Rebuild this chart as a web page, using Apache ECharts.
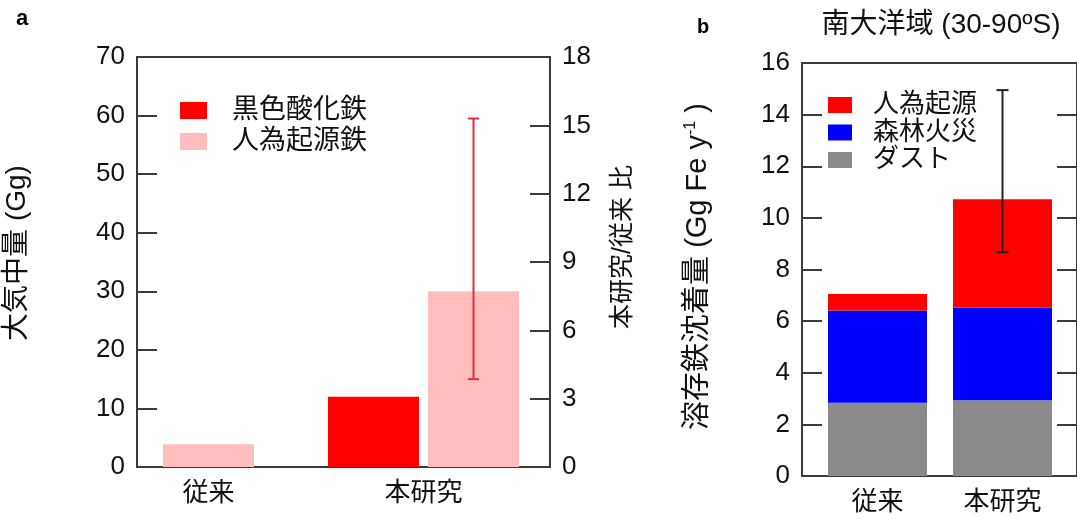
<!DOCTYPE html>
<html>
<head>
<meta charset="utf-8">
<script src="https://cdn.jsdelivr.net/npm/echarts@6/dist/echarts.min.js"></script>
<style>
  html, body { margin: 0; padding: 0; background: #ffffff; }
  #chart { width: 1077px; height: 519px; }
</style>
</head>
<body>
<div id="chart"></div>
<script>
// ---- Panel a: atmospheric burden (Gg) ----
const categoriesA = ['従来', '本研究'];
const blackOxideA = ['-', 12];      // 黒色酸化鉄
const anthroPairedA = ['-', 30];    // 人為起源鉄, 本研究 (paired with 黒色酸化鉄)
const anthroSoloA = [3.9, '-'];     // 人為起源鉄, 従来 (single bar)
const anthroRangeA = [[1, 15, 59.5]]; // [category, low, high]
const leftAxisA = { min: 0, max: 70, interval: 10 };
const rightAxisA = { min: 0, max: 18, interval: 3 };

// ---- Panel b: soluble Fe deposition, Southern Ocean (Gg Fe / yr) ----
const categoriesB = ['従来', '本研究'];
const dustB = [2.84, 2.93];
const fireB = [3.57, 3.59];
const anthroB = [0.64, 4.20];
const totalRangeB = [[1, 8.67, 14.95]];
const axisB = { min: 0, max: 16, interval: 2 };

const FONT = "'Liberation Sans', 'Noto Sans CJK JP', sans-serif";
const AXIS_COLOR = '#3a3a3a';
const RED = '#ff0000';
const PINK = '#ffbdbd';
const BLUE = '#0000ff';
const GREY = '#8a8a8a';

const BAR_W_A = 91, BAR_GAP_A = 9;
const BAR_W_B = 99;

// error bar: vertical whisker with caps, shifted horizontally by dx
function errorBar(color, capHalf, dx) {
  return function (params, api) {
    const c = api.value(0);
    const lo = api.coord([c, api.value(1)]);
    const hi = api.coord([c, api.value(2)]);
    const x = lo[0] + dx;
    const style = { stroke: color, lineWidth: 2 };
    return {
      type: 'group',
      children: [
        { type: 'line', shape: { x1: x, y1: hi[1], x2: x, y2: lo[1] }, style },
        { type: 'line', shape: { x1: x - capHalf, y1: hi[1], x2: x + capHalf, y2: hi[1] }, style },
        { type: 'line', shape: { x1: x - capHalf, y1: lo[1], x2: x + capHalf, y2: lo[1] }, style }
      ]
    };
  };
}

function frameYAxis(grid, position, range, showLabels, extra) {
  return Object.assign({
    type: 'value', gridIndex: grid, position: position,
    min: range.min, max: range.max, interval: range.interval,
    axisLine: { show: true, lineStyle: { color: AXIS_COLOR, width: 2 } },
    axisTick: { show: true, inside: true, length: 20, lineStyle: { color: AXIS_COLOR, width: 2 } },
    axisLabel: { show: showLabels, margin: 12, fontSize: 26, color: '#111', fontFamily: FONT },
    splitLine: { show: false }
  }, extra || {});
}

function hiddenYAxis(grid, range) {
  return { type: 'value', gridIndex: grid, min: range.min, max: range.max, show: false, splitLine: { show: false } };
}

function labelXAxis(grid, cats) {
  return {
    type: 'category', gridIndex: grid, data: cats,
    axisLine: { show: false }, axisTick: { show: false },
    axisLabel: { margin: 14, fontSize: 26, color: '#111', fontFamily: FONT },
    splitLine: { show: false }
  };
}

const chart = echarts.init(document.getElementById('chart'), null, { renderer: 'canvas' });

chart.setOption({
  animation: false,
  backgroundColor: '#ffffff',
  textStyle: { fontFamily: FONT },
  grid: [
    // 0: frame of panel a
    { left: 137, top: 57, width: 413, height: 410, show: true, borderColor: AXIS_COLOR, borderWidth: 2, backgroundColor: 'transparent' },
    // 1: bars of panel a
    { left: 101, top: 57, width: 430, height: 410 },
    // 2: single 従来 bar of panel a
    { left: 101, top: 57, width: 430, height: 410 },
    // 3: frame of panel b
    { left: 802, top: 63, width: 277, height: 413, show: true, borderColor: AXIS_COLOR, borderWidth: 2, backgroundColor: 'transparent' },
    // 4: bars of panel b
    { left: 815, top: 63, width: 250, height: 413 }
  ],
  xAxis: [
    { type: 'value', gridIndex: 0, min: 0, max: 1, show: false, splitLine: { show: false } },
    labelXAxis(1, categoriesA),
    { type: 'category', gridIndex: 2, data: categoriesA, show: false },
    { type: 'value', gridIndex: 3, min: 0, max: 1, show: false, splitLine: { show: false } },
    labelXAxis(4, categoriesB)
  ],
  yAxis: [
    frameYAxis(0, 'left', leftAxisA, true, {
      name: '大気中量 (Gg)', nameLocation: 'middle', nameGap: 106,
      nameTextStyle: { fontSize: 28, color: '#111', padding: [0, 0, 0, 18] }
    }),
    frameYAxis(0, 'right', rightAxisA, true, {
      name: '本研究/従来 比', nameLocation: 'middle', nameGap: 61,
      nameTextStyle: { fontSize: 25, color: '#111', padding: [0, 0, 0, 30] }
    }),
    hiddenYAxis(1, leftAxisA),
    hiddenYAxis(2, leftAxisA),
    frameYAxis(3, 'left', axisB, true, {
      name: '溶存鉄沈着量 (Gg Fe y{sup|-1} )', nameLocation: 'middle', nameGap: 89,
      nameTextStyle: {
        fontSize: 29, color: '#111', padding: [0, 0, 0, 6], lineHeight: 30,
        rich: { sup: { fontSize: 16, color: '#111', verticalAlign: 'top', lineHeight: 30, padding: [0, 0, 12, 0] } }
      }
    }),
    frameYAxis(3, 'right', axisB, false),
    hiddenYAxis(4, axisB)
  ],
  legend: [
    {
      data: ['黒色酸化鉄', '人為起源鉄'],
      orient: 'vertical', left: 180, top: 97, padding: 0,
      itemWidth: 27, itemHeight: 17, itemGap: 4, icon: 'rect',
      textStyle: { fontSize: 27, color: '#111', padding: [0, 0, 0, 20] },
      selectedMode: false
    },
    {
      data: ['人為起源', '森林火災', 'ダスト'],
      orient: 'vertical', left: 828, top: 92, padding: 0,
      itemWidth: 24, itemHeight: 16, itemGap: 1.5, icon: 'rect',
      textStyle: { fontSize: 26, color: '#111', padding: [0, 0, 0, 16] },
      selectedMode: false
    }
  ],
  graphic: [
    { type: 'text', left: 16, top: 8, style: { text: 'a', font: 'bold 22px ' + FONT, fill: '#000' } },
    { type: 'text', left: 697, top: 17, style: { text: 'b', font: 'bold 20px ' + FONT, fill: '#000' } },
    { type: 'text', x: 941, y: 25, style: { text: '南大洋域 (30-90ºS)', font: '28px ' + FONT, fill: '#111', align: 'center', verticalAlign: 'middle' } }
  ],
  series: [
    // panel a
    {
      name: '黒色酸化鉄', type: 'bar', xAxisIndex: 1, yAxisIndex: 2,
      data: blackOxideA, barWidth: BAR_W_A, barGap: (BAR_GAP_A / BAR_W_A * 100) + '%',
      itemStyle: { color: RED }
    },
    {
      name: '人為起源鉄', type: 'bar', xAxisIndex: 1, yAxisIndex: 2,
      data: anthroPairedA, barWidth: BAR_W_A, barGap: (BAR_GAP_A / BAR_W_A * 100) + '%',
      itemStyle: { color: PINK }
    },
    {
      name: '人為起源鉄', type: 'bar', xAxisIndex: 2, yAxisIndex: 3,
      data: anthroSoloA, barWidth: BAR_W_A,
      itemStyle: { color: PINK }
    },
    {
      type: 'custom', xAxisIndex: 1, yAxisIndex: 2, z: 5,
      renderItem: errorBar('#e0303a', 5.5, (BAR_W_A + BAR_GAP_A) / 2),
      encode: { x: 0, y: [1, 2] },
      data: anthroRangeA
    },
    // panel b
    {
      name: 'ダスト', type: 'bar', stack: 'dep', xAxisIndex: 4, yAxisIndex: 6,
      data: dustB, barWidth: BAR_W_B, itemStyle: { color: GREY }
    },
    {
      name: '森林火災', type: 'bar', stack: 'dep', xAxisIndex: 4, yAxisIndex: 6,
      data: fireB, barWidth: BAR_W_B, itemStyle: { color: BLUE }
    },
    {
      name: '人為起源', type: 'bar', stack: 'dep', xAxisIndex: 4, yAxisIndex: 6,
      data: anthroB, barWidth: BAR_W_B, itemStyle: { color: RED }
    },
    {
      type: 'custom', xAxisIndex: 4, yAxisIndex: 6, z: 5,
      renderItem: errorBar('#222222', 6, 0),
      encode: { x: 0, y: [1, 2] },
      data: totalRangeB
    }
  ]
});
</script>
</body>
</html>
